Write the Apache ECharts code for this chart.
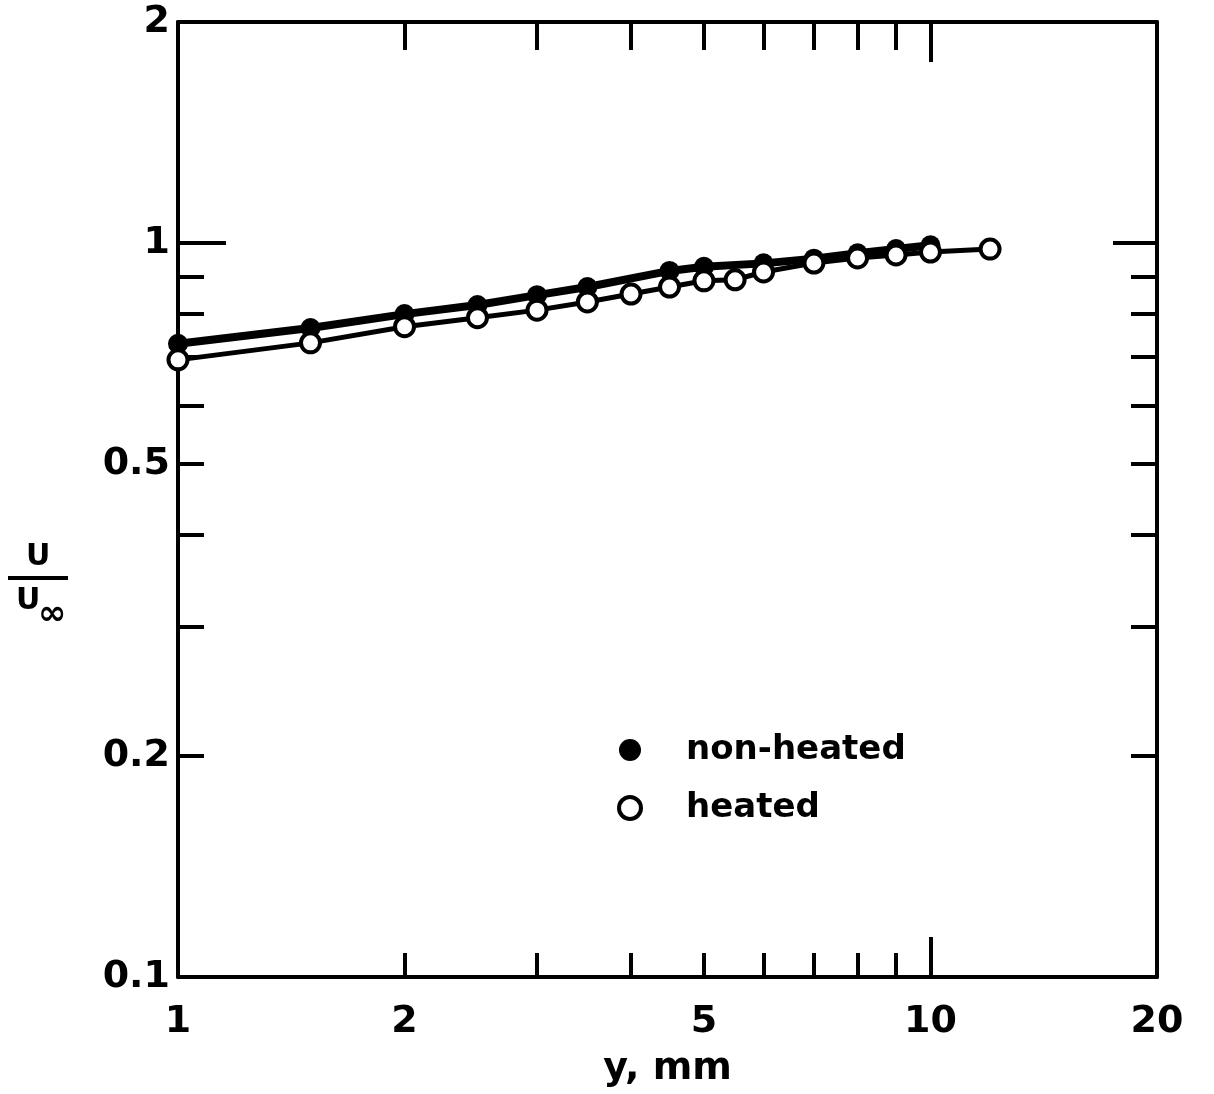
<!DOCTYPE html>
<html>
<head>
<meta charset="utf-8">
<title>u/u_inf vs y</title>
<script src="https://cdn.jsdelivr.net/npm/echarts@6/dist/echarts.min.js"></script>
<style>
  html, body { margin: 0; padding: 0; background: #fff; }
  #main { width: 1214px; height: 1094px; }
</style>
</head>
<body>
<div id="main"></div>
<script>
// y, mm  (filled symbols: non-heated)
var yNonHeated = [1, 1.5, 2, 2.5, 3, 3.5, 4.5, 5, 6, 7, 8, 9, 10];
var uNonHeated = [0.729, 0.766, 0.800, 0.823, 0.849, 0.871, 0.916, 0.928, 0.938, 0.952, 0.968, 0.981, 0.993];
// y, mm  (open symbols: heated)
var yHeated = [1, 1.5, 2, 2.5, 3, 3.5, 4, 4.5, 5, 5.5, 6, 7, 8, 9, 10, 12];
var uHeated = [0.693, 0.731, 0.769, 0.791, 0.810, 0.831, 0.852, 0.871, 0.888, 0.891, 0.913, 0.939, 0.954, 0.963, 0.972, 0.981];

// tick labels / tick positions
var xLabels = [1, 2, 5, 10, 20];
var xMinorTicks = [2, 3, 4, 5, 6, 7, 8, 9];
var xMajorTicks = [10];
var yLabels = [0.1, 0.2, 0.5, 1, 2];
var yMinorTicks = [0.2, 0.3, 0.4, 0.5, 0.6, 0.7, 0.8, 0.9];
var yMajorTicks = [1];

var X_MIN = 1, X_MAX = 20, Y_MIN = 0.1, Y_MAX = 2;

function lg(arr) { return arr.map(function (v) { return Math.log10(v); }); }
function pairs(xs, ys) { return xs.map(function (x, i) { return [x, ys[i]]; }); }

var FONT = 'DejaVu Sans';
var black = '#000';

// helper: a value axis laid out in log10 space, only used to draw frame, ticks, labels
function tickAxis(pos, min, max, ticks, len, opts) {
    opts = opts || {};
    var ax = {
        type: 'value',
        position: pos,
        min: min,
        max: max,
        axisLine: { show: !!opts.line, onZero: false, lineStyle: { color: black, width: 4 } },
        axisTick: {
            show: true, inside: true, length: len,
            customValues: lg(ticks),
            lineStyle: { color: black, width: 4 }
        },
        axisLabel: { show: false },
        splitLine: { show: false },
        silent: true
    };
    if (opts.labels) {
        ax.axisLabel = {
            show: true,
            customValues: lg(opts.labels),
            formatter: function (v) { return String(Number(Math.pow(10, v).toPrecision(2))); },
            color: black,
            fontFamily: FONT,
            fontWeight: 'bold',
            fontSize: 38,
            margin: opts.margin
        };
    }
    if (opts.name) {
        ax.name = opts.name;
        ax.nameLocation = 'middle';
        ax.nameGap = opts.nameGap;
        ax.nameTextStyle = { color: black, fontFamily: FONT, fontWeight: 'bold', fontSize: 38 };
    }
    return ax;
}

var chart = echarts.init(document.getElementById('main'));

var option = {
    backgroundColor: '#fff',
    animation: false,
    grid: { left: 178, right: 57, top: 22, bottom: 117, outerBoundsMode: 'none', containLabel: false },
    xAxis: [
        { type: 'log', logBase: 10, min: X_MIN, max: X_MAX, show: false },
        tickAxis('bottom', 0, Math.log10(X_MAX), xMinorTicks, 24,
            { line: true, labels: xLabels, margin: 26, name: 'y, mm', nameGap: 73 }),
        tickAxis('bottom', 0, Math.log10(X_MAX), xMajorTicks, 40),
        tickAxis('top', 0, Math.log10(X_MAX), xMinorTicks, 28, { line: true }),
        tickAxis('top', 0, Math.log10(X_MAX), xMajorTicks, 40)
    ],
    yAxis: [
        { type: 'log', logBase: 10, min: Y_MIN, max: Y_MAX, show: false },
        tickAxis('left', Math.log10(Y_MIN), Math.log10(Y_MAX), yMinorTicks, 26,
            { line: true, labels: yLabels, margin: 8 }),
        tickAxis('left', Math.log10(Y_MIN), Math.log10(Y_MAX), yMajorTicks, 48),
        tickAxis('right', Math.log10(Y_MIN), Math.log10(Y_MAX), yMinorTicks, 26, { line: true }),
        tickAxis('right', Math.log10(Y_MIN), Math.log10(Y_MAX), yMajorTicks, 44)
    ],
    legend: {
        orient: 'vertical',
        left: 612,
        top: 728,
        itemWidth: 22,
        itemHeight: 22,
        itemGap: 24,
        icon: 'circle',
        textStyle: {
            color: black, fontFamily: FONT, fontWeight: 'bold', fontSize: 34,
            padding: [0, 0, 0, 40]
        },
        data: [
            { name: 'non-heated', itemStyle: { color: black, borderWidth: 0 } },
            { name: 'heated', itemStyle: { color: '#fff', borderColor: black, borderWidth: 4 } }
        ]
    },
    graphic: [
        {
            type: 'group', left: 8, top: 542,
            children: [
                { type: 'text', x: 18, y: 0, style: { text: 'U', font: 'bold 30px "DejaVu Sans"', fill: black } },
                { type: 'rect', shape: { x: 0, y: 34, width: 60, height: 4 }, style: { fill: black } },
                { type: 'text', x: 8, y: 44, style: { text: 'U', font: 'bold 30px "DejaVu Sans"', fill: black } },
                { type: 'text', x: 30, y: 56, style: { text: '\u221e', font: 'italic bold 34px "DejaVu Sans"', fill: black } }
            ]
        }
    ],
    series: [
        {
            name: 'non-heated',
            type: 'line',
            xAxisIndex: 0, yAxisIndex: 0,
            data: pairs(yNonHeated, uNonHeated),
            symbol: 'circle',
            symbolSize: 20,
            lineStyle: { color: black, width: 8 },
            itemStyle: { color: black },
            z: 3
        },
        {
            name: 'heated',
            type: 'line',
            xAxisIndex: 0, yAxisIndex: 0,
            data: pairs(yHeated, uHeated),
            symbol: 'circle',
            symbolSize: 19,
            lineStyle: { color: black, width: 5 },
            itemStyle: { color: '#fff', borderColor: black, borderWidth: 4 },
            z: 4
        }
    ]
};

chart.setOption(option);
</script>
</body>
</html>
